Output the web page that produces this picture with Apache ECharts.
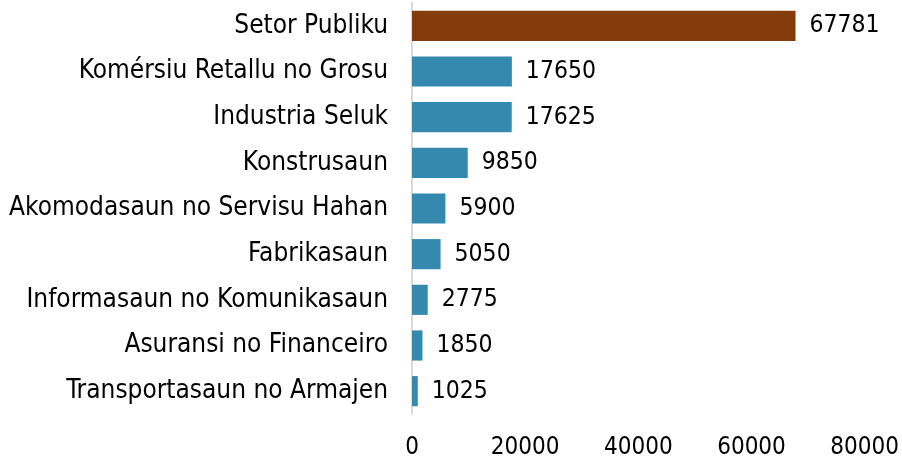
<!DOCTYPE html>
<html>
<head>
<meta charset="utf-8">
<script src="https://cdn.jsdelivr.net/npm/echarts@6/dist/echarts.min.js"></script>
<style>
  html, body { margin: 0; padding: 0; background: #fff; }
  #chart { width: 902px; height: 460px; }
</style>
</head>
<body>
<div id="chart"></div>
<script>
// sectors listed top to bottom
var sectors = ['Setor Publiku', 'Komérsiu Retallu no Grosu', 'Industria Seluk', 'Konstrusaun',
    'Akomodasaun no Servisu Hahan', 'Fabrikasaun', 'Informasaun no Komunikasaun',
    'Asuransi no Financeiro', 'Transportasaun no Armajen'];
var workers = [67781, 17650, 17625, 9850, 5900, 5050, 2775, 1850, 1025];
var highlight = 'Setor Publiku';

var fontFam = '"DejaVu Sans Condensed", "DejaVu Sans", sans-serif';

var chart = echarts.init(document.getElementById('chart'));

// category axis runs bottom-up, so reverse
var cats = sectors.slice().reverse();
var vals = workers.slice().reverse().map(function(v, i) {
    return {
        value: v,
        itemStyle: { color: cats[i] == highlight ? '#843C0C' : '#3589AE' }
    };
});

var option = {
    animation: false,
    grid: {
        left: 412,
        right: 36,
        top: 3,
        height: 412,
        containLabel: false
    },
    xAxis: {
        type: 'value',
        min: 0,
        max: 80000,
        interval: 20000,
        axisLine: { show: false },
        axisTick: { show: false },
        splitLine: { show: false },
        axisLabel: {
            margin: 22,
            color: '#000',
            fontSize: 24,
            fontFamily: fontFam,
            formatter: function(v) { return String(v); }
        }
    },
    yAxis: {
        type: 'category',
        data: cats,
        axisLine: { show: true, lineStyle: { color: '#d9d9d9', width: 2 } },
        axisTick: { show: false },
        axisLabel: {
            margin: 24,
            color: '#000',
            fontSize: 26,
            fontFamily: fontFam
        }
    },
    series: [{
        type: 'bar',
        data: vals,
        barCategoryGap: '34%',
        label: {
            show: true,
            position: 'right',
            distance: 14,
            color: '#000',
            fontSize: 24.5,
            fontFamily: fontFam
        }
    }]
};
chart.setOption(option);
</script>
</body>
</html>
